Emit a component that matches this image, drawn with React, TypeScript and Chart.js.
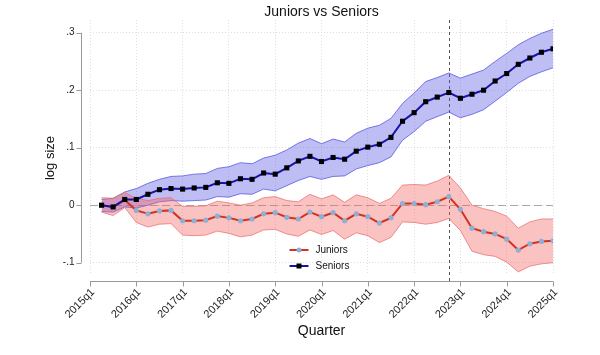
import React, { useEffect, useRef } from "react";
import { Chart, registerables } from "chart.js";

Chart.register(...registerables);

// ---------- data ----------
const quarters = [
  "2015q2", "2015q3", "2015q4", "2016q1", "2016q2", "2016q3", "2016q4", "2017q1",
  "2017q2", "2017q3", "2017q4", "2018q1", "2018q2", "2018q3", "2018q4", "2019q1",
  "2019q2", "2019q3", "2019q4", "2020q1", "2020q2", "2020q3", "2020q4", "2021q1",
  "2021q2", "2021q3", "2021q4", "2022q1", "2022q2", "2022q3", "2022q4", "2023q1",
  "2023q2", "2023q3", "2023q4", "2024q1", "2024q2", "2024q3", "2024q4", "2025q1",
];

const juniors = [
  0.000, -0.003, 0.009, -0.009, -0.015, -0.010, -0.009, -0.027,
  -0.027, -0.026, -0.019, -0.022, -0.027, -0.024, -0.015, -0.013,
  -0.021, -0.024, -0.012, -0.020, -0.013, -0.027, -0.015, -0.020,
  -0.031, -0.022, 0.003, 0.003, 0.001, 0.006, 0.015, -0.007,
  -0.040, -0.046, -0.050, -0.059, -0.078, -0.067, -0.063, -0.062,
];
const juniorsLo = [
  -0.012, -0.018, -0.004, -0.030, -0.038, -0.033, -0.032, -0.052,
  -0.053, -0.052, -0.045, -0.049, -0.055, -0.052, -0.043, -0.042,
  -0.050, -0.054, -0.043, -0.051, -0.044, -0.059, -0.048, -0.053,
  -0.065, -0.056, -0.029, -0.030, -0.033, -0.030, -0.023, -0.044,
  -0.080, -0.086, -0.089, -0.099, -0.116, -0.106, -0.102, -0.100,
];
const juniorsHi = [
  0.013, 0.012, 0.022, 0.012, 0.008, 0.012, 0.013, -0.002,
  -0.002, -0.001, 0.007, 0.004, 0.000, 0.004, 0.013, 0.015,
  0.008, 0.006, 0.019, 0.011, 0.018, 0.005, 0.018, 0.013,
  0.003, 0.012, 0.035, 0.036, 0.035, 0.042, 0.052, 0.030,
  0.000, -0.006, -0.011, -0.019, -0.040, -0.029, -0.024, -0.024,
];

const seniors = [
  0.000, -0.003, 0.010, 0.010, 0.019, 0.027, 0.029, 0.028,
  0.030, 0.031, 0.039, 0.038, 0.046, 0.045, 0.056, 0.054,
  0.065, 0.077, 0.085, 0.076, 0.083, 0.080, 0.094, 0.101,
  0.106, 0.118, 0.146, 0.161, 0.180, 0.188, 0.196, 0.186,
  0.193, 0.200, 0.216, 0.229, 0.245, 0.256, 0.266, 0.272,
];
const seniorsLo = [
  -0.011, -0.012, -0.003, -0.005, 0.000, 0.006, 0.008, 0.007,
  0.008, 0.009, 0.015, 0.014, 0.020, 0.019, 0.028, 0.025,
  0.034, 0.043, 0.050, 0.045, 0.050, 0.051, 0.063, 0.069,
  0.074, 0.084, 0.113, 0.128, 0.146, 0.154, 0.162, 0.152,
  0.158, 0.166, 0.181, 0.196, 0.212, 0.224, 0.232, 0.239,
];
const seniorsHi = [
  0.010, 0.012, 0.023, 0.029, 0.038, 0.045, 0.050, 0.051,
  0.054, 0.055, 0.064, 0.067, 0.074, 0.072, 0.082, 0.087,
  0.096, 0.108, 0.116, 0.107, 0.115, 0.110, 0.125, 0.134,
  0.139, 0.151, 0.177, 0.195, 0.215, 0.222, 0.230, 0.221,
  0.228, 0.235, 0.250, 0.264, 0.279, 0.290, 0.299, 0.306,
];

const xTickLabels = [
  "2015q1", "2016q1", "2017q1", "2018q1", "2019q1", "2020q1",
  "2021q1", "2022q1", "2023q1", "2024q1", "2025q1",
];
const yTicks = [-0.1, 0, 0.1, 0.2, 0.3];
const yTickLabels = ["-.1", "0", ".1", ".2", ".3"];
const eventQuarter = "2022q4";
const seriesNames = ["Juniors", "Seniors"];
const chartTitle = "Juniors vs Seniors";
const yTitle = "log size";
const xTitle = "Quarter";

// ---------- helpers ----------
const qIndex = (q: string) => {
  const [y, qq] = q.split("q");
  return (Number(y) - 2015) * 4 + Number(qq) - 1;
};
const pts = (vals: number[]) => quarters.map((q, i) => ({ x: qIndex(q), y: vals[i] }));

const FONT = "'Liberation Sans', Arial, Helvetica, sans-serif";
const JUN_LINE = "#d2321e";
const JUN_MARK = "#8fb0d4";
const SEN_LINE = "#1414a8";
const SEN_MARK = "#000000";

const decor = {
  id: "decor",
  beforeDatasetsDraw(chart: any) {
    const { ctx, chartArea, scales } = chart;
    const xs = scales.x, ys = scales.y;
    ctx.save();
    // zero line
    ctx.strokeStyle = "#a8a8a8";
    ctx.lineWidth = 1;
    ctx.setLineDash([8, 4]);
    const y0 = Math.round(ys.getPixelForValue(0)) + 0.5;
    ctx.beginPath();
    ctx.moveTo(chartArea.left, y0);
    ctx.lineTo(chartArea.right, y0);
    ctx.stroke();
    // event line
    ctx.strokeStyle = "#555555";
    ctx.setLineDash([3, 3]);
    const xe = Math.round(xs.getPixelForValue(qIndex(eventQuarter))) + 0.5;
    ctx.beginPath();
    ctx.moveTo(xe, chartArea.top);
    ctx.lineTo(xe, chartArea.bottom + 8);
    ctx.stroke();
    ctx.restore();
  },
  afterDraw(chart: any) {
    const { ctx, chartArea, scales } = chart;
    const xs = scales.x, ys = scales.y;
    const cx = (chartArea.left + chartArea.right) / 2;
    ctx.save();
    ctx.setLineDash([]);
    // y axis
    const axX = chartArea.left - 8.5;
    const yTop = ys.getPixelForValue(yTicks[yTicks.length - 1]);
    const yBot = ys.getPixelForValue(yTicks[0]);
    ctx.strokeStyle = "#9a9a9a";
    ctx.lineWidth = 1;
    ctx.beginPath();
    ctx.moveTo(axX, yTop);
    ctx.lineTo(axX, yBot);
    yTicks.forEach((v) => {
      const py = Math.round(ys.getPixelForValue(v)) + 0.5;
      ctx.moveTo(axX - 5, py);
      ctx.lineTo(axX, py);
    });
    ctx.stroke();
    ctx.fillStyle = "#222";
    ctx.font = `10px ${FONT}`;
    ctx.textAlign = "right";
    ctx.textBaseline = "middle";
    yTicks.forEach((v, i) => {
      ctx.fillText(yTickLabels[i], axX - 7, ys.getPixelForValue(v));
    });
    // x axis
    const axY = chartArea.bottom + 8.5;
    const x0 = xs.getPixelForValue(qIndex(xTickLabels[0]));
    const x1 = xs.getPixelForValue(qIndex(xTickLabels[xTickLabels.length - 1]));
    ctx.beginPath();
    ctx.moveTo(x0, axY);
    ctx.lineTo(x1, axY);
    xTickLabels.forEach((l) => {
      const px = Math.round(xs.getPixelForValue(qIndex(l))) + 0.5;
      ctx.moveTo(px, axY);
      ctx.lineTo(px, axY + 5);
    });
    ctx.stroke();
    ctx.font = `11px ${FONT}`;
    ctx.textAlign = "right";
    ctx.textBaseline = "middle";
    xTickLabels.forEach((l) => {
      const px = xs.getPixelForValue(qIndex(l));
      ctx.save();
      ctx.translate(px + 3, axY + 9);
      ctx.rotate(-Math.PI / 4);
      ctx.fillText(l, 0, 0);
      ctx.restore();
    });
    // titles
    ctx.fillStyle = "#111";
    ctx.font = `14px ${FONT}`;
    ctx.textAlign = "center";
    ctx.textBaseline = "alphabetic";
    ctx.fillText(chartTitle, cx, 16);
    ctx.font = `14px ${FONT}`;
    ctx.fillText(xTitle, cx, 335);
    ctx.save();
    ctx.translate(50, 158);
    ctx.rotate(-Math.PI / 2);
    ctx.font = `13px ${FONT}`;
    ctx.textBaseline = "middle";
    ctx.fillText(yTitle, 0, 0);
    ctx.restore();
    // legend
    const entries = [
      { name: seriesNames[0], line: JUN_LINE, mark: JUN_MARK, square: false },
      { name: seriesNames[1], line: SEN_LINE, mark: SEN_MARK, square: true },
    ];
    ctx.font = `10px ${FONT}`;
    ctx.textAlign = "left";
    ctx.textBaseline = "middle";
    entries.forEach((e, i) => {
      const ly = 250 + i * 16;
      const lx0 = cx - 32, lx1 = cx - 13;
      ctx.strokeStyle = e.line;
      ctx.lineWidth = 2;
      ctx.beginPath();
      ctx.moveTo(lx0, ly);
      ctx.lineTo(lx1, ly);
      ctx.stroke();
      ctx.fillStyle = e.mark;
      const mx = (lx0 + lx1) / 2;
      if (e.square) {
        ctx.fillRect(mx - 2.5, ly - 2.5, 5, 5);
      } else {
        ctx.beginPath();
        ctx.arc(mx, ly, 2.5, 0, Math.PI * 2);
        ctx.fill();
      }
      ctx.fillStyle = "#111";
      ctx.fillText(e.name, cx - 6, ly);
    });
    ctx.restore();
  },
};

export default function App() {
  const ref = useRef<HTMLCanvasElement>(null);
  useEffect(() => {
    document.body.style.margin = "0";
    const bandEdge = (c: string) => ({
      borderColor: c,
      borderWidth: 1,
      pointRadius: 0,
      tension: 0,
    });
    const chart = new Chart(ref.current as HTMLCanvasElement, {
      type: "line",
      data: {
        datasets: [
          { label: "seniorsLo", data: pts(seniorsLo), ...bandEdge("rgba(80,80,225,0.75)"), fill: false, order: 4 },
          {
            label: "seniorsHi", data: pts(seniorsHi), ...bandEdge("rgba(80,80,225,0.75)"),
            fill: "-1", backgroundColor: "rgba(85,85,230,0.38)", order: 4,
          },
          { label: "juniorsLo", data: pts(juniorsLo), ...bandEdge("rgba(235,110,110,0.75)"), fill: false, order: 3 },
          {
            label: "juniorsHi", data: pts(juniorsHi), ...bandEdge("rgba(235,110,110,0.75)"),
            fill: "-1", backgroundColor: "rgba(245,95,95,0.38)", order: 3,
          },
          {
            label: seriesNames[0], data: pts(juniors), borderColor: JUN_LINE, borderWidth: 2,
            pointStyle: "circle", pointRadius: 2.6, pointBackgroundColor: JUN_MARK,
            pointBorderWidth: 0, pointBorderColor: JUN_MARK, fill: false, tension: 0, order: 1,
          },
          {
            label: seriesNames[1], data: pts(seniors), borderColor: SEN_LINE, borderWidth: 2,
            pointStyle: "rect", pointRadius: 3.6, pointBackgroundColor: SEN_MARK,
            pointBorderWidth: 0, pointBorderColor: SEN_MARK, fill: false, tension: 0, order: 0,
          },
        ] as any,
      },
      options: {
        responsive: false,
        animation: false,
        devicePixelRatio: 1,
        layout: { padding: { left: 90, right: 47, top: 20, bottom: 82 } },
        plugins: { legend: { display: false }, title: { display: false }, tooltip: { enabled: false } },
        scales: {
          x: {
            type: "linear",
            min: 0,
            max: 40,
            afterBuildTicks: (s: any) => {
              s.ticks = xTickLabels.map((l) => ({ value: qIndex(l) }));
            },
            ticks: { display: false },
            grid: { color: "#dedede", drawTicks: false, lineWidth: 1 },
            border: { display: false, dash: [1, 2] },
          },
          y: {
            type: "linear",
            min: -0.1179,
            max: 0.3221,
            afterBuildTicks: (s: any) => {
              s.ticks = yTicks.map((v) => ({ value: v }));
            },
            ticks: { display: false },
            grid: { color: "#dedede", drawTicks: false, lineWidth: 1 },
            border: { display: false, dash: [1, 2] },
          },
        },
      } as any,
      plugins: [decor as any],
    });
    return () => chart.destroy();
  }, []);
  return (
    <canvas
      ref={ref}
      width={600}
      height={355}
      style={{ display: "block", width: 600, height: 355 }}
    />
  );
}
